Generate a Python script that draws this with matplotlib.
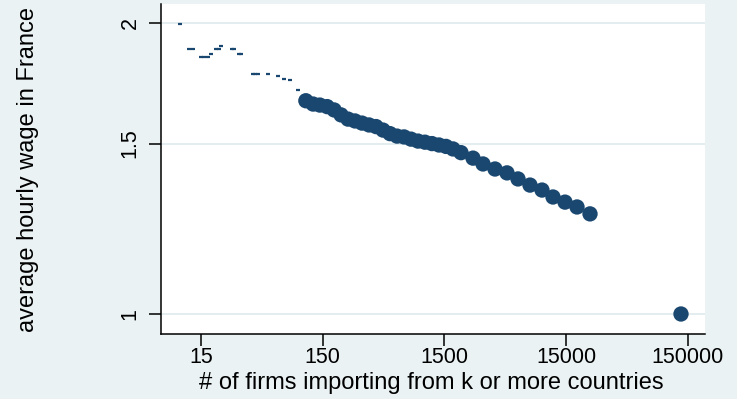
import numpy as np
import matplotlib
matplotlib.use("Agg")
import matplotlib.pyplot as plt
from matplotlib.ticker import FixedLocator, NullLocator, FixedFormatter

# few-country importers: sparse counts, drawn as thin markers
firms_small = [10, 12, 13, 15, 16, 17, 18, 20, 21, 22, 27, 28, 31, 32,
               40, 42, 44, 53, 64, 72, 81, 94]
wage_small = [1.994, 1.879, 1.879, 1.845, 1.845, 1.845, 1.855, 1.880, 1.880, 1.891,
              1.880, 1.880, 1.855, 1.855, 1.769, 1.769, 1.769, 1.769, 1.760, 1.750,
              1.744, 1.704]

# number of firms importing from k or more countries, and their mean wage
firms = [109, 125, 142, 163, 186, 212, 242, 276, 315, 360, 411, 469, 535, 611,
         698, 796, 909, 1037, 1184, 1352, 1543, 1762, 2049, 2572, 3107, 3898,
         4891, 6024, 7557, 9483, 11675, 14650, 18385, 23510, 131400]
wage = [1.661, 1.648, 1.644, 1.638, 1.625, 1.606, 1.590, 1.583, 1.575, 1.568,
        1.562, 1.549, 1.536, 1.527, 1.524, 1.516, 1.509, 1.505, 1.500, 1.495,
        1.490, 1.481, 1.468, 1.449, 1.429, 1.412, 1.399, 1.379, 1.359, 1.343,
        1.321, 1.305, 1.290, 1.269, 1.000]

xticks = [15, 150, 1500, 15000, 150000]
xtick_labels = ["15", "150", "1500", "15000", "150000"]
yticks = [1, 1.5, 2]
ytick_labels = ["1", "1.5", "2"]

bg = "#EAF2F3"
navy = "#1A476F"

plt.rcParams["font.family"] = ["Liberation Sans", "DejaVu Sans"]

fig = plt.figure(figsize=(7.37, 3.99), dpi=100, facecolor=bg)
ax = fig.add_axes([161 / 737, 65 / 399, 544 / 737, 330 / 399])
ax.set_facecolor("white")

ax.set_xscale("log")
ax.set_yscale("log")
ax.set_xlim(7.04, 206900)
ax.set_ylim(0.9535, 2.091)

ax.plot(firms_small, wage_small, linestyle="none", marker="_", markersize=3.0,
        markeredgewidth=1.6, color=navy, zorder=3)
ax.scatter(firms, wage, s=122, color=navy, edgecolors="none", zorder=3)

ax.xaxis.set_major_locator(FixedLocator(xticks))
ax.xaxis.set_major_formatter(FixedFormatter(xtick_labels))
ax.xaxis.set_minor_locator(NullLocator())
ax.yaxis.set_major_locator(FixedLocator(yticks))
ax.yaxis.set_major_formatter(FixedFormatter(ytick_labels))
ax.yaxis.set_minor_locator(NullLocator())

ax.tick_params(axis="x", length=8.5, width=1.1, pad=1, labelsize=15.5, colors="black")
ax.tick_params(axis="y", length=8.5, width=1.1, pad=6, labelsize=15.5, colors="black",
               labelrotation=90)
for lab in ax.get_yticklabels():
    lab.set_verticalalignment("center")

ax.grid(axis="y", color="#E3EDEF", linewidth=1.4, zorder=0)
ax.set_axisbelow(True)

for side in ["top", "right"]:
    ax.spines[side].set_visible(False)
for side in ["left", "bottom"]:
    ax.spines[side].set_linewidth(1.1)
    ax.spines[side].set_color("black")

fig.text(431 / 737, (399 - 383) / 399, "# of firms importing from k or more countries",
         ha="center", va="center", fontsize=17)
fig.text(28 / 737, (399 - 169) / 399, "average hourly wage in France",
         ha="center", va="center", rotation=90, fontsize=17)

fig.savefig("out.png", dpi=100, facecolor=bg)
